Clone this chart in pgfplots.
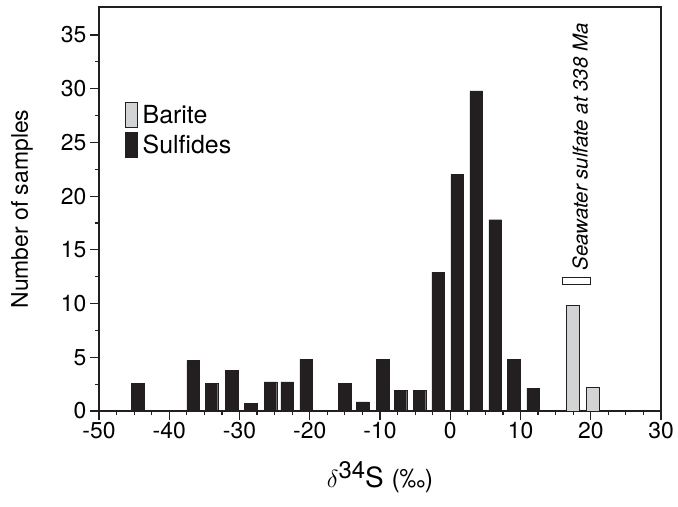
\documentclass[border=0pt]{standalone}
\usepackage{fontspec}
\setmainfont{TeX Gyre Heros}
\usepackage{pgfplots}
\pgfplotsset{compat=1.18}
\definecolor{ink}{HTML}{231F20}
\definecolor{baritegray}{HTML}{D1D3D4}
\begin{document}
\begin{tikzpicture}
\begin{axis}[
  scale only axis, width=562bp, height=404bp,
  xmin=-50, xmax=30, ymin=0, ymax=37.6,
  axis line style={ink, line width=1.4bp},
  xtick={-50,-40,...,30}, ytick={0,5,...,35},
  minor x tick num=3, minor y tick num=1,
  tick align=outside, xtick pos=bottom, ytick pos=left,
  major tick length=9bp, minor tick length=4bp,
  every tick/.style={ink, line width=1.2bp},
  ticklabel style={font=\fontsize{23}{26}\selectfont, text=black},
  xticklabel style={yshift=1bp},
  /pgf/number format/assume math mode=true,
  xlabel={{\fontsize{31}{32}\selectfont$\delta$}\raisebox{9bp}{\fontsize{24}{26}\selectfont 34}S {\fontsize{25}{28}\selectfont(‰)}},
  xlabel style={at={(axis description cs:0.5,0)}, anchor=center, yshift=-66bp, font=\fontsize{28}{30}\selectfont},
  ylabel={Number of samples},
  ylabel style={at={(axis description cs:0,0.5)}, anchor=center, yshift=77bp, font=\fontsize{23}{26}\selectfont},
  ybar, bar width=1.8, bar shift=0pt,
  legend style={draw=none, fill=none, at={(rel axis cs:0.04,0.77)}, anchor=north west,
    font=\fontsize{25}{28}\selectfont, row sep=4bp, legend cell align=left,
    nodes={inner xsep=5bp}},
  legend image code/.code={\draw[#1] (0bp,-12.5bp) rectangle (12bp,12.5bp);},
]
\addplot[fill=baritegray, draw=ink, line width=1bp] coordinates {
(17.5,9.8) (20.3,2.2)};
\addlegendentry{Barite}
\addplot[fill=ink, draw=ink, line width=0.3bp] coordinates {
(-44.5,2.6) (-36.6,4.7) (-34.0,2.6) (-31.1,3.8) (-28.4,0.7) (-25.6,2.7)
(-23.2,2.7) (-20.5,4.8) (-15.0,2.6) (-12.5,0.85) (-9.6,4.8) (-7.1,1.95)
(-4.4,1.95) (-1.7,12.9) (1.0,22.0) (3.7,29.8) (6.4,17.8) (9.0,4.8) (11.8,2.1)};
\addlegendentry{Sulfides}
\addplot[ybar=false, sharp plot, draw=ink, fill=white, line width=1bp, forget plot] coordinates {
(16.0,11.8) (19.9,11.8) (19.9,12.4) (16.0,12.4) (16.0,11.8)} -- cycle;
\node[rotate=90, anchor=west, font=\fontsize{20.5}{22}\selectfont\itshape, inner sep=0pt]
  at (axis cs:18.5,13.1) {Seawater sulfate at 338 Ma};
\end{axis}
\path ([shift={(-99bp,-95bp)}]current axis.south west) rectangle ([shift={(17bp,7bp)}]current axis.north east);
\end{tikzpicture}
\end{document}
